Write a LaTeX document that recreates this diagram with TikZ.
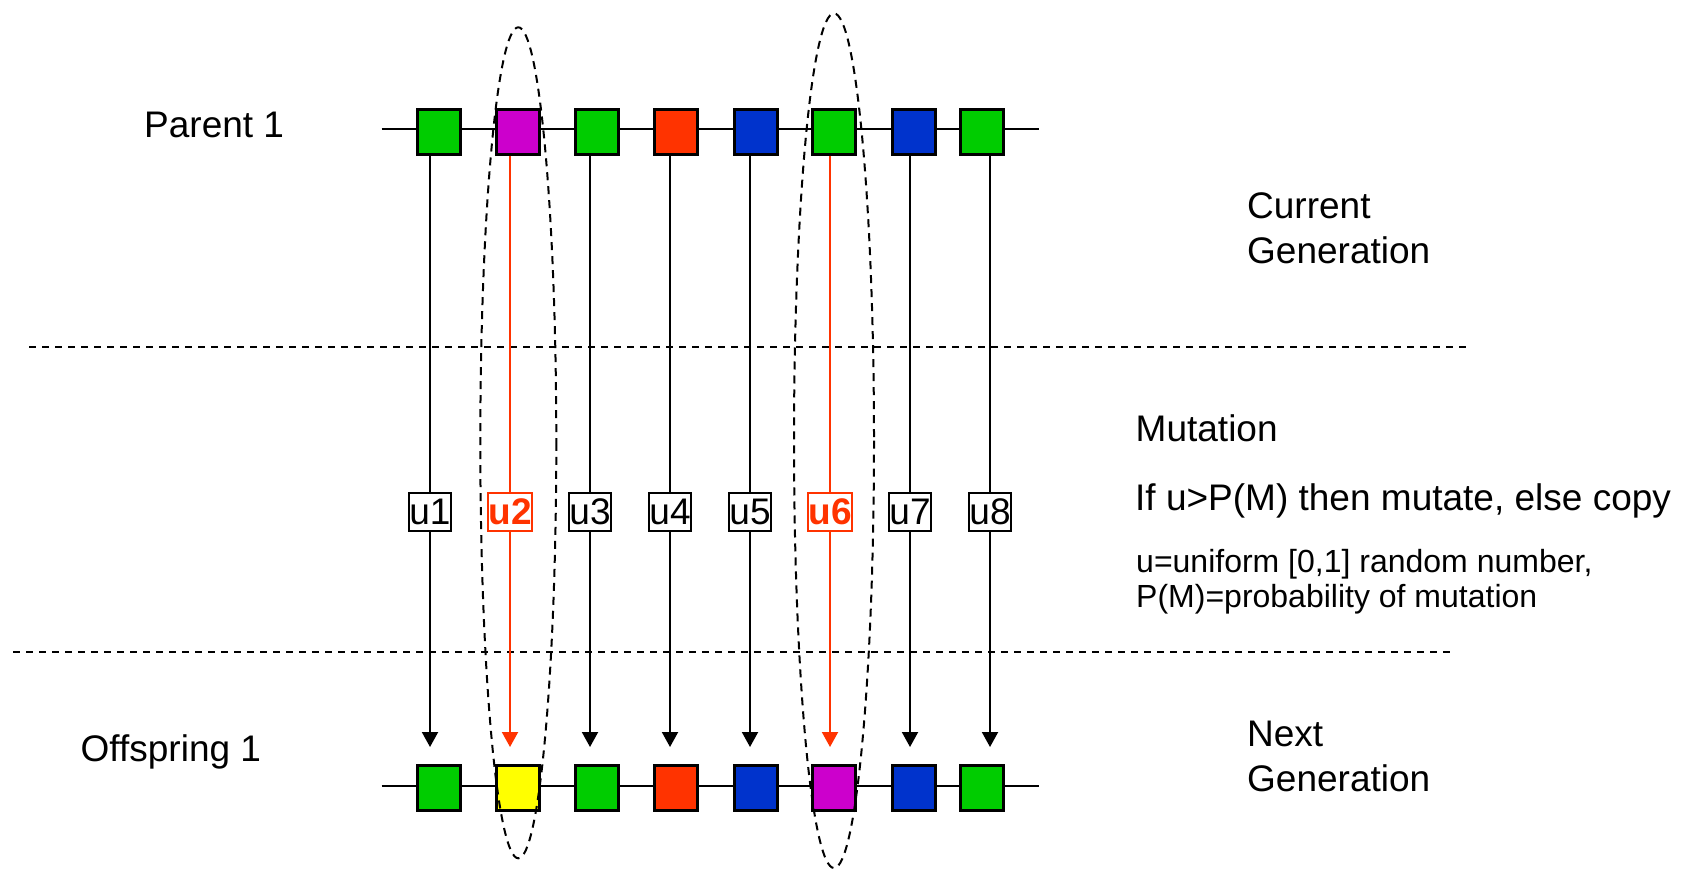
\documentclass[tikz,border=0pt]{standalone}
\usepackage{fontspec}
\setmainfont{Liberation Sans}
\usetikzlibrary{arrows.meta}
\definecolor{cgreen}{HTML}{00CC00}
\definecolor{cmag}{HTML}{CC00CC}
\definecolor{cred}{HTML}{FF3300}
\definecolor{cblue}{HTML}{0033CC}
\definecolor{cyel}{HTML}{FFFF00}
\newcommand\bigf{\fontsize{37}{45}\selectfont}
\newcommand\smallf{\fontsize{32}{35.5}\selectfont}
\begin{document}
\begin{tikzpicture}[x=1pt,y=-1pt,
  gene/.style={draw=black, line width=3pt, minimum width=43pt, minimum height=45pt, inner sep=0pt},
  ulab/.style={draw=black, line width=2pt, fill=white, minimum width=36pt, minimum height=38.6pt, inner sep=0pt, font=\bigf},
  ulabred/.style={ulab, draw=cred, text=cred, font=\bigf\bfseries},
  conn/.style={line width=2pt, -{Triangle[length=15pt,width=16pt]}},
  connred/.style={conn, draw=cred, -{Triangle[length=15pt,width=16pt,fill=cred]}},
  chrom/.style={line width=2pt},
  sep/.style={line width=1.8pt, dash pattern=on 7pt off 6pt},
  sel/.style={line width=2pt, dash pattern=on 8pt off 6pt},
  txt/.style={anchor=base west, font=\bigf, inner sep=0pt, align=left}
]
\useasboundingbox (0,0) rectangle (1687,871);

% chromosome lines
\coordinate (pl) at (381.7,129.3);
\coordinate (pr) at (1038.7,129.3);
\coordinate (ol) at (381.7,785.7);
\coordinate (or) at (1038.7,785.7);
\draw[chrom] (pl) -- (pr);
\draw[chrom] (ol) -- (or);

% separators
\coordinate (s1a) at (29.3,347.3);
\coordinate (s1b) at (1470.7,347.3);
\coordinate (s2a) at (13.3,651.7);
\coordinate (s2b) at (1454,651.7);
\draw[sep] (s1a) -- (s1b);
\draw[sep] (s2a) -- (s2b);

% columns
\foreach \i/\bx/\ctop/\cbot in {1/438.7/cgreen/cgreen, 2/518/cmag/cyel, 3/597/cgreen/cgreen, 4/676.3/cred/cred, 5/755.7/cblue/cblue, 6/834.3/cgreen/cmag, 7/913.7/cblue/cblue, 8/981.7/cgreen/cgreen}{
  \node[gene, fill=\ctop] (p\i) at (\bx,131.7) {};
  \node[gene, fill=\cbot] (o\i) at (\bx,787.5) {};
  \coordinate (t\i) at ({430+80*(\i-1)},747);
}
\foreach \i in {1,3,4,5,7,8}{
  \draw[conn] (p\i.south -| t\i) -- (t\i);
  \node[ulab] (u\i) at ({430+80*(\i-1)},512) {u\i};
}
\foreach \i in {2,6}{
  \draw[connred] (p\i.south -| t\i) -- (t\i);
  \node[ulabred] (u\i) at ({430+80*(\i-1)},512) {u\i};
}

% selection ellipses
\draw[sel] (518.3,442.8) ellipse [x radius=38, y radius=415.5];
\draw[sel] (834,440.7) ellipse [x radius=40, y radius=427.3];

% texts
\node[txt] (par) at (144,137.3) {Parent 1};
\node[txt] (off) at (80.5,761) {Offspring 1};
\node[txt] (cur) at (1247,263) {Current\\Generation};
\node[txt] (mut) at (1135.5,441.5) {Mutation};
\node[txt] (rule) at (1135,510) {If u>P(M) then mutate, else copy};
\node[txt, font=\smallf] (def) at (1136,607.5) {u=uniform [0,1] random number,\\P(M)=probability of mutation};
\node[txt] (nxt) at (1247,791) {Next\\Generation};
\end{tikzpicture}
\end{document}
